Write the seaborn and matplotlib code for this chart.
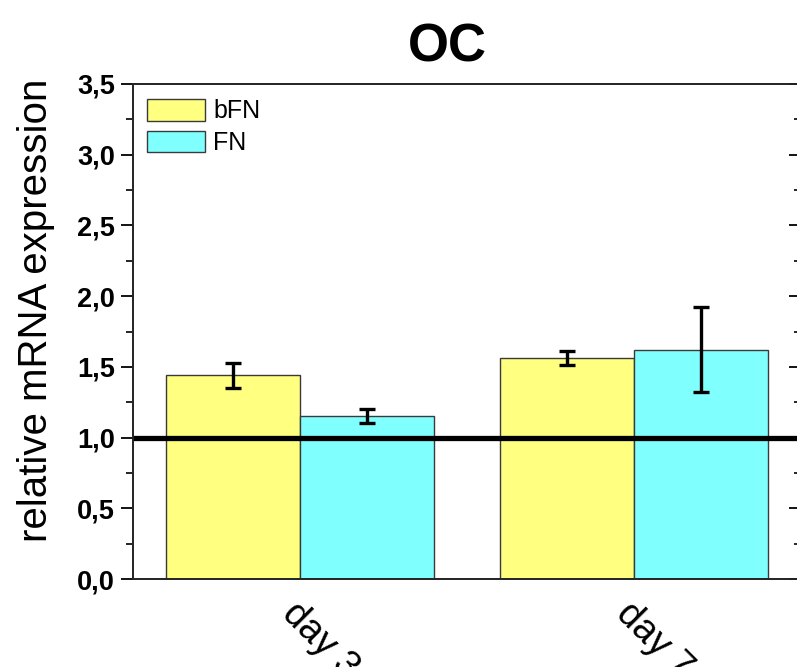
import matplotlib
matplotlib.use("Agg")
import matplotlib.pyplot as plt
import seaborn as sns
import pandas as pd
from matplotlib.ticker import MultipleLocator, FuncFormatter

# values
days = ["day 3", "day 7"]
groups = ["bFN", "FN"]
bfn_mean = [1.44, 1.56]
bfn_err = [0.09, 0.05]
fn_mean = [1.15, 1.62]
fn_err = [0.05, 0.30]
colors = ["#ffff80", "#80ffff"]

df = pd.DataFrame({
    "day": days * 2,
    "group": [groups[0]] * 2 + [groups[1]] * 2,
    "value": bfn_mean + fn_mean,
})
errs = {groups[0]: bfn_err, groups[1]: fn_err}

sns.set_theme(style="ticks")
plt.rcParams["font.family"] = ["Liberation Sans", "DejaVu Sans"]
plt.rcParams["text.color"] = "black"
plt.rcParams["axes.labelcolor"] = "black"
plt.rcParams["xtick.color"] = "black"
plt.rcParams["ytick.color"] = "black"

fig = plt.figure(figsize=(7.97, 6.67), dpi=100)
# axes runs slightly past the right edge, like the cropped original
ax = fig.add_axes([133 / 797, 88 / 667, 668 / 797, 495 / 667])

sns.barplot(data=df, x="day", y="value", hue="group", hue_order=groups,
            palette=colors, saturation=1, width=0.8, errorbar=None,
            edgecolor="#3a3a3a", linewidth=1.0, ax=ax)

# error bars on top of each bar
for cont, g in zip(ax.containers, groups):
    xs = [p.get_x() + p.get_width() / 2 for p in cont.patches]
    ys = [p.get_height() for p in cont.patches]
    ax.errorbar(xs, ys, yerr=errs[g], fmt="none", ecolor="black",
                elinewidth=2.4, capsize=6, capthick=2.4, zorder=5)

ax.axhline(1.0, color="black", lw=3.8, zorder=6)

ax.set_ylim(0, 3.5)
ax.set_xlim(-0.5, 1.5)
ax.yaxis.set_major_locator(MultipleLocator(0.5))
ax.yaxis.set_minor_locator(MultipleLocator(0.25))
ax.yaxis.set_major_formatter(FuncFormatter(lambda v, p: f"{v:.1f}".replace(".", ",")))
ax.tick_params(axis="y", which="major", length=9, width=1.3, labelsize=19.5, pad=4)
ax.tick_params(axis="y", which="minor", length=5, width=1.2)
ax.tick_params(axis="x", length=0, labelsize=27, pad=12)
for lab in ax.get_yticklabels():
    lab.set_fontweight("bold")
for lab in ax.get_xticklabels():
    lab.set_rotation(-45)
    lab.set_ha("left")
    lab.set_va("top")
    lab.set_rotation_mode("anchor")

for s in ax.spines.values():
    s.set_linewidth(1.3)
    s.set_color("#222222")

# inward ticks on the right side
ax_r = ax.twinx()
ax_r.set_ylim(0, 3.5)
ax_r.yaxis.set_major_locator(MultipleLocator(0.5))
ax_r.yaxis.set_minor_locator(MultipleLocator(0.25))
ax_r.tick_params(axis="y", which="major", direction="in", length=9, width=1.3, labelright=False)
ax_r.tick_params(axis="y", which="minor", direction="in", length=5, width=1.2)

ax.set_xlabel("")
ax.set_ylabel("relative mRNA expression", fontsize=29)
ax.yaxis.set_label_coords(-0.117, 0.543)

ax.legend(loc="upper left", bbox_to_anchor=(14 / 668, 1 - 15 / 495),
          borderaxespad=0, borderpad=0, frameon=False, fontsize=18,
          handlelength=2.3, handleheight=0.95, handletextpad=0.35,
          labelspacing=0.3)

fig.text(447 / 797, 1 - 47 / 667, "OC", fontsize=38, fontweight="bold",
         ha="center", va="center")

fig.savefig("out.png", dpi=100)
